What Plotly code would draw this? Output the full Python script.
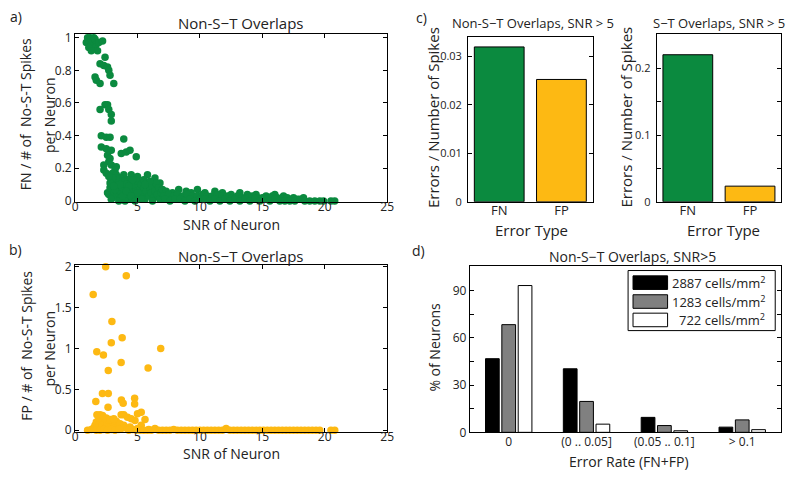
import plotly.graph_objects as go

GREEN = "#0B8A3F"
YELLOW = "#FDB913"
TXT = "#222222"
FONT = "Open Sans"
W, H = 800, 482

# ---- panel a: FN / # of No-S-T spikes per neuron vs SNR (x, y) ----
fn_points = [
    (0.9, 0.97), (1.0, 1.0), (1.1, 0.98), (1.2, 1.0), (1.3, 0.99), (1.4, 0.97), (1.5, 1.0),
    (1.6, 0.99), (1.7, 0.96), (1.2, 0.95), (1.4, 0.93), (1.6, 0.94), (1.8, 0.92), (1.9, 0.97),
    (2.2, 0.98), (1.1, 0.94), (1.3, 0.92),
    (2.4, 0.88), (2.0, 0.84), (2.3, 0.83), (2.6, 0.82), (2.7, 0.80), (2.8, 0.77), (1.6, 0.76),
    (1.7, 0.74), (2.0, 0.72), (3.1, 0.72),
    (2.4, 0.59), (2.6, 0.59), (2.0, 0.56), (2.7, 0.56), (2.9, 0.53), (2.9, 0.49),
    (2.1, 0.40), (2.5, 0.39), (2.8, 0.39), (3.9, 0.38), (2.1, 0.33), (2.5, 0.32), (2.9, 0.31),
    (3.7, 0.29), (4.1, 0.30), (4.4, 0.31), (4.9, 0.27), (2.6, 0.28), (2.8, 0.26), (2.7, 0.24),
    (2.3, 0.22), (2.9, 0.22), (3.3, 0.21), (2.3, 0.19), (3.2, 0.19), (3.0, 0.17), (2.5, 0.17),
    (3.3, 0.16), (3.9, 0.16), (4.5, 0.16), (5.0, 0.15), (5.8, 0.16), (6.4, 0.14), (6.8, 0.11),
    (4.2, 0.13), (3.6, 0.14), (2.9, 0.13),
    (2.6, 0.05), (2.7, 0.04), (2.8, 0.08), (3.0, 0.10), (3.1, 0.06), (3.2, 0.12), (3.3, 0.03),
    (3.4, 0.09), (3.5, 0.11), (3.6, 0.06), (3.7, 0.02), (3.8, 0.08), (3.9, 0.12), (4.0, 0.04),
    (4.1, 0.10), (4.2, 0.07), (4.3, 0.01), (4.4, 0.05), (4.5, 0.11), (4.6, 0.08), (4.7, 0.03),
    (4.8, 0.09), (4.9, 0.06), (5.0, 0.12), (5.1, 0.02), (5.2, 0.07), (5.3, 0.10), (5.4, 0.04),
    (5.5, 0.08), (5.6, 0.01), (5.7, 0.06), (5.8, 0.10), (5.9, 0.03), (6.0, 0.07), (6.1, 0.05),
    (6.2, 0.09), (6.3, 0.02), (6.4, 0.06), (6.5, 0.11), (6.6, 0.04), (6.7, 0.08), (6.8, 0.01),
    (6.9, 0.05), (7.0, 0.07), (3.5, 0.0), (4.0, 0.0), (3.0, 0.02), (3.4, 0.13), (4.6, 0.13),
    (5.5, 0.13), (6.0, 0.12), (3.8, 0.03), (4.3, 0.09), (5.0, 0.05), (5.3, 0.01), (6.2, 0.0),
    (2.9, 0.01), (3.2, 0.07), (3.6, 0.10), (4.1, 0.06), (4.5, 0.03), (4.8, 0.0), (5.6, 0.10),
    (3.3, 0.14), (3.0, 0.14), (2.8, 0.11), (2.7, 0.15), (3.1, 0.09),
    (7.3, 0.06), (7.8, 0.05), (8.3, 0.07), (8.9, 0.06), (9.3, 0.05), (9.8, 0.07), (10.4, 0.05),
    (11.2, 0.06), (11.8, 0.05), (12.5, 0.04), (13.2, 0.05), (13.8, 0.04), (14.5, 0.04),
    (15.3, 0.03), (16.0, 0.04), (16.7, 0.03), (17.5, 0.02), (18.3, 0.02),
    (7.1, 0.03), (7.5, 0.04), (7.9, 0.03), (8.2, 0.04), (8.6, 0.03), (9.0, 0.04), (9.4, 0.03),
    (9.8, 0.03), (10.2, 0.04), (10.6, 0.03), (11.0, 0.03), (11.4, 0.04), (11.8, 0.03),
    (12.2, 0.03), (12.6, 0.02), (13.0, 0.03), (13.4, 0.02), (13.8, 0.02), (14.2, 0.03),
    (14.6, 0.02), (15.0, 0.02), (15.4, 0.02), (15.8, 0.03), (16.2, 0.02), (16.6, 0.01),
    (17.0, 0.02), (17.4, 0.01), (17.8, 0.01),
    (7.2, 0.01), (7.6, 0.0), (8.0, 0.01), (8.4, 0.01), (8.8, 0.0), (9.2, 0.01), (9.6, 0.0),
    (10.0, 0.01), (10.4, 0.01), (10.8, 0.0), (11.2, 0.01), (11.6, 0.0), (12.0, 0.01),
    (12.4, 0.0), (12.8, 0.01), (13.2, 0.0), (13.6, 0.01), (14.0, 0.0), (14.4, 0.01),
    (14.8, 0.0), (15.2, 0.01), (15.6, 0.0), (16.0, 0.01), (16.4, 0.0), (16.8, 0.0),
    (17.2, 0.0), (17.6, 0.0), (18.0, 0.01), (18.4, 0.0), (18.8, 0.0), (19.2, 0.0),
    (19.6, 0.0), (19.9, 0.0), (20.5, 0.0), (20.8, 0.0),
]

# ---- panel b: FP / # of No-S-T spikes per neuron vs SNR (x, y) ----
fp_points = [
    (2.45, 2.0), (4.1, 1.89), (1.45, 1.66), (2.95, 1.33), (3.77, 1.13), (2.9, 1.07),
    (1.74, 0.96), (2.27, 0.92), (6.86, 1.0), (3.69, 0.83), (5.85, 0.76), (2.66, 0.73),
    (2.19, 0.45), (2.66, 0.45), (1.66, 0.35), (3.71, 0.37), (3.85, 0.33), (4.77, 0.39),
    (4.77, 0.32), (2.64, 0.28), (3.69, 0.19), (2.0, 0.19), (5.0, 0.2), (5.3, 0.22),
    (5.6, 0.13), (3.9, 0.19), (4.2, 0.16), (4.5, 0.14), (4.8, 0.12), (5.3, 0.06),
    (1.0, 0.0), (1.3, 0.01), (1.5, 0.03), (1.6, 0.06), (1.7, 0.10), (1.8, 0.04), (1.9, 0.08),
    (2.0, 0.12), (2.1, 0.02), (2.2, 0.06), (2.3, 0.10), (2.4, 0.14), (2.5, 0.04), (2.6, 0.08),
    (2.7, 0.12), (2.8, 0.02), (2.9, 0.06), (3.0, 0.10), (3.1, 0.03), (3.2, 0.07), (3.3, 0.11),
    (3.4, 0.02), (3.5, 0.05), (3.6, 0.08), (3.7, 0.02), (3.8, 0.04), (3.9, 0.06), (4.0, 0.03),
    (4.2, 0.02), (4.4, 0.04), (1.7, 0.0), (2.0, 0.0), (2.3, 0.01), (2.6, 0.0), (2.9, 0.01),
    (3.2, 0.0), (3.5, 0.01), (1.9, 0.15), (2.2, 0.18), (2.5, 0.15), (2.8, 0.13), (3.1, 0.14),
    (1.75, 0.19), (4.6, 0.01), (5.0, 0.02), (5.9, 0.01),
    (4.3, 0.0), (4.9, 0.0), (5.2, 0.0), (5.5, 0.0), (5.8, 0.0), (6.1, 0.0), (6.4, 0.02),
    (6.7, 0.0), (7.0, 0.0), (7.3, 0.0), (7.6, 0.0), (7.9, 0.01), (8.2, 0.0), (8.5, 0.0),
    (8.8, 0.0), (9.1, 0.0), (9.4, 0.0), (9.7, 0.0), (10.0, 0.0), (10.3, 0.0), (10.6, 0.0),
    (10.9, 0.0), (11.2, 0.0), (11.5, 0.0), (11.8, 0.0), (12.1, 0.02), (12.4, 0.0),
    (12.7, 0.0), (13.0, 0.0), (13.3, 0.0), (13.6, 0.0), (13.9, 0.0), (14.2, 0.0),
    (14.5, 0.0), (14.8, 0.0), (15.1, 0.0), (15.4, 0.0), (15.7, 0.0), (16.0, 0.0),
    (16.3, 0.0), (16.6, 0.0), (16.9, 0.0), (17.2, 0.0), (17.5, 0.0), (17.8, 0.0),
    (18.1, 0.0), (18.4, 0.0), (18.7, 0.0), (19.0, 0.0), (19.3, 0.0), (19.6, 0.0),
    (20.5, 0.0), (20.8, 0.0),
]

# ---- panel c: errors / number of spikes, SNR > 5 ----
error_types = ["FN", "FP"]
non_st_errors = [0.0319, 0.0252]
st_errors = [0.2205, 0.0234]

# ---- panel d: % of neurons per error-rate bin ----
rate_bins = ["0", "(0 .. 0.05]", "(0.05 .. 0.1]", "> 0.1"]
pct_2887 = [46.7, 40.3, 9.5, 3.3]
pct_1283 = [68.3, 19.6, 4.3, 7.9]
pct_722 = [93.1, 5.2, 1.0, 1.7]


def px(x):
    return x / W


def py(y):
    return 1 - y / H


def axis(x0, x1, rng, size=12, **kw):
    d = dict(domain=[x0, x1], range=rng, showline=True, linecolor="black", linewidth=1,
             mirror="ticks", ticks="inside", ticklen=4, tickcolor="black", showgrid=False,
             zeroline=False, tickfont=dict(size=size, color=TXT, family=FONT))
    d.update(kw)
    return d


def minor_in(step):
    return dict(ticks="inside", ticklen=4, tickcolor="black", dtick=step, showgrid=False)


fig = go.Figure()

snr_a, fn_a = zip(*fn_points)
snr_b, fp_b = zip(*fp_points)
fig.add_trace(go.Scatter(x=snr_a, y=fn_a, mode="markers", cliponaxis=False,
                         marker=dict(size=7.5, color=GREEN), xaxis="x", yaxis="y"))
fig.add_trace(go.Scatter(x=snr_b, y=fp_b, mode="markers", cliponaxis=False,
                         marker=dict(size=7.5, color=YELLOW), xaxis="x2", yaxis="y2"))

bar_line = dict(color="black", width=1)
fig.add_trace(go.Bar(x=error_types, y=non_st_errors, width=0.8, marker_color=[GREEN, YELLOW],
                     marker_line=bar_line, xaxis="x3", yaxis="y3"))
fig.add_trace(go.Bar(x=error_types, y=st_errors, width=0.8, marker_color=[GREEN, YELLOW],
                     marker_line=bar_line, xaxis="x4", yaxis="y4"))

for vals, col in [(pct_2887, "black"), (pct_1283, "#808080"), (pct_722, "white")]:
    fig.add_trace(go.Bar(x=rate_bins, y=vals, marker_color=col, marker_line=bar_line,
                         xaxis="x5", yaxis="y5"))

fig.update_layout(
    width=W, height=H, autosize=False, showlegend=False,
    margin=dict(l=0, r=0, t=0, b=0),
    paper_bgcolor="white", plot_bgcolor="white",
    font=dict(family=FONT, color=TXT),
    barmode="group", bargap=0.37, bargroupgap=0.16,
    xaxis=axis(px(73), px(389), [0, 25], anchor="y", dtick=5, ticklabelstandoff=-6),
    yaxis=axis(py(201), py(28), [-0.005, 1.022], anchor="x", dtick=0.2, tickformat="~g"),
    xaxis2=axis(px(73), px(389), [0, 25], anchor="y2", dtick=5, ticklabelstandoff=-6),
    yaxis2=axis(py(438.5), py(266), [-0.02, 2.025], anchor="x2", dtick=0.5, tickformat="~g"),
    xaxis3=axis(px(471), px(597), [-0.5, 1.5], size=13, anchor="y3", ticks="", ticklabelstandoff=-3),
    yaxis3=axis(py(201), py(30.7), [0, 0.034], size=11, anchor="x3", dtick=0.01, tickformat="~g",
                ticklabelstandoff=3),
    xaxis4=axis(px(662), px(788), [-0.5, 1.5], size=13, anchor="y4", ticks="", ticklabelstandoff=-3),
    yaxis4=axis(py(201), py(28.3), [0, 0.251], size=11, anchor="x4", dtick=0.1, tickformat="~g",
                minor=minor_in(0.05), ticklabelstandoff=3),
    xaxis5=axis(px(472.7), px(788), [-0.5, 3.5], anchor="y5", ticks="", ticklabelstandoff=-2),
    yaxis5=axis(py(439), py(267.3), [0, 105.5], anchor="x5", dtick=30, minor=minor_in(15)),
)

annotations = [
    # panel letters
    ("a)", 13, 10, 14, 0), ("b)", 13, 250, 14, 0), ("c)", 424, 11, 14, 0), ("d)", 421, 251, 14, 0),
    # titles
    ("Non-S\u2212T Overlaps", 240, 17, 15, 0),
    ("Non-S\u2212T Overlaps", 240, 257, 15, 0),
    ("Non-S\u2212T Overlaps, SNR > 5", 537, 16, 13, 0),
    ("S\u2212T Overlaps, SNR > 5", 725, 16, 13, 0),
    ("Non-S\u2212T Overlaps, SNR>5", 637, 257, 14, 0),
    # x-axis titles
    ("SNR of Neuron", 231, 224, 14, 0),
    ("SNR of Neuron", 231, 461, 14, 0),
    ("Error Type", 535, 230, 15, 0),
    ("Error Type", 730, 230, 15, 0),
    ("Error Rate (FN+FP)", 634, 469, 14, 0),
    # y-axis titles
    ("FN / # of  No-S-T Spikes", 23, 111, 14, -90),
    ("per Neuron", 47, 111, 14, -90),
    ("FP / # of  No-S-T Spikes", 23, 350, 14, -90),
    ("per Neuron", 47, 352, 14, -90),
    ("Errors / Number of Spikes", 436, 114, 15, -90),
    ("Errors / Number of Spikes", 631, 114, 15, -90),
    ("% of Neurons", 437, 351, 14, -90),
]
for text, x, y, size, angle in annotations:
    fig.add_annotation(text=text, x=px(x), y=py(y), xref="paper", yref="paper",
                       showarrow=False, textangle=angle, xanchor="center", yanchor="middle",
                       font=dict(size=size, color=TXT, family=FONT))

# legend of panel d drawn by hand (box, swatches and labels)
fig.add_shape(type="rect", xref="paper", yref="paper", x0=px(633), x1=px(782), y0=py(334), y1=py(272),
              line=dict(color="black", width=1), fillcolor="white")
legend_rows = [("black", "2887 cells/mm<sup>2</sup>", 284.5),
               ("#808080", "1283 cells/mm<sup>2</sup>", 304),
               ("white", "722 cells/mm<sup>2</sup>", 323)]
for col, label, yc in legend_rows:
    fig.add_shape(type="rect", xref="paper", yref="paper", x0=px(638), x1=px(673),
                  y0=py(yc + 7), y1=py(yc - 7), line=dict(color="black", width=1), fillcolor=col)
    fig.add_annotation(text=label, x=px(774), y=py(yc), xref="paper", yref="paper",
                       showarrow=False, xanchor="right", yanchor="middle",
                       font=dict(size=13, color=TXT, family=FONT))

# the page's default body margin would shift the figure by 8px
fig.write_html("out.html", config={"displayModeBar": False},
               post_script="document.body.style.margin='0px';")
